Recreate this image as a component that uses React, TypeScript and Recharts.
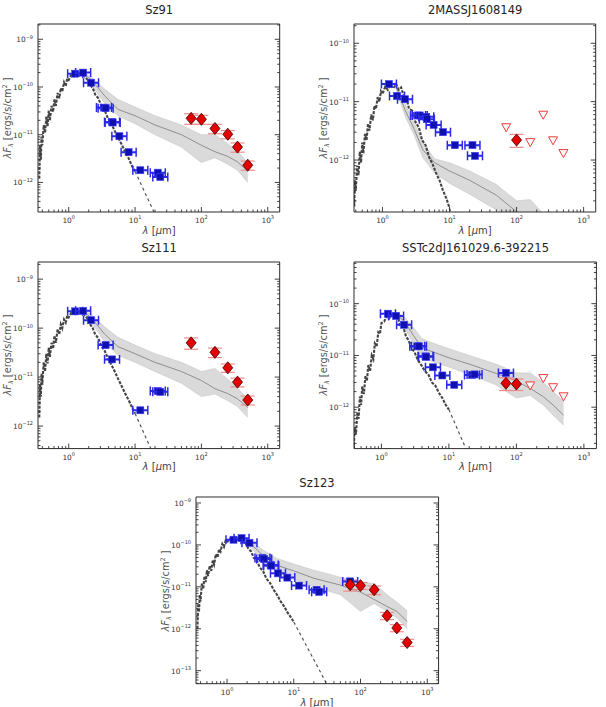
import React from "react";
import { ComposedChart, Line, Area, Scatter, ErrorBar, XAxis, YAxis } from "recharts";

const FONT = "DejaVu Sans, Verdana, sans-serif";
const FRAME = "#2b2b2b";

type XY = [number, number];
type XYE = [number, number, number];
type Band = [number, number, number, number]; // wavelength, median, low, high

// wavelength grid (micron) of the photosphere spectra
const specWave = [
  0.36, 0.37, 0.38, 0.39, 0.4, 0.42, 0.44, 0.46, 0.48, 0.5, 0.52, 0.55, 0.58, 0.61, 0.64,
  0.68, 0.72, 0.76, 0.8, 0.85, 0.9, 0.95, 1.0, 1.1, 1.2, 1.3, 1.45, 1.6, 1.75, 1.9, 2.1,
  2.3, 2.5, 2.8, 3.1, 3.5, 3.9, 4.4, 5.0, 5.6, 6.3, 7.1, 8.0, 9.0, 10,
];

const xMajor = [0, 1, 2, 3];

// ---- Sz91 ----
const sz91Spec = [
  1.2e-12, 6e-12, 3e-12, 9e-12, 6e-12, 1.6e-11, 1.1e-11, 2.4e-11, 1.5e-11, 3.2e-11, 2.0e-11,
  4.0e-11, 3.0e-11, 5.5e-11, 4.0e-11, 7.5e-11, 5.8e-11, 9.5e-11, 8.0e-11, 1.25e-10, 1.05e-10,
  1.5e-10, 1.4e-10, 1.85e-10, 1.7e-10, 2.0e-10, 1.75e-10, 2.05e-10, 1.6e-10, 1.45e-10, 1.1e-10,
  9.5e-11, 7.0e-11, 5.8e-11, 4.0e-11, 3.2e-11, 2.2e-11, 1.7e-11, 1.15e-11, 8.5e-12, 6.2e-12,
  4.3e-12, 3.2e-12, 2.2e-12, 1.7e-12,
];
const sz91Tail: XY[] = [[10, 1.7e-12], [40, 2.7e-14]];
const sz91Model: Band[] = [
  [1.6, 2.0e-10, 1.9e-10, 2.1e-10], [2.2, 1.4e-10, 1.1e-10, 1.6e-10], [3.5, 6.5e-11, 4.5e-11, 9e-11],
  [5.5, 3.4e-11, 2.5e-11, 5.5e-11], [10, 2.5e-11, 1.7e-11, 3.8e-11], [20, 1.6e-11, 1.0e-11, 2.5e-11],
  [50, 1.0e-11, 5.5e-12, 1.6e-11], [100, 6.0e-12, 2.6e-12, 1.0e-11], [160, 4.4e-12, 3.3e-12, 1.0e-11],
  [250, 3.5e-12, 2.4e-12, 6.5e-12], [350, 2.7e-12, 1.8e-12, 4.5e-12], [500, 1.7e-12, 1.0e-12, 2.6e-12],
];
const sz91Phot: XY[] = [
  [1.25, 1.9e-10], [1.65, 2.0e-10], [2.17, 1.23e-10], [3.4, 3.7e-11], [3.6, 3.6e-11], [4.5, 1.85e-11],
  [4.6, 1.8e-11], [5.8, 9.3e-12], [8.0, 4.3e-12], [12, 1.8e-12], [22, 1.6e-12], [24, 1.3e-12],
];
const sz91Far: XYE[] = [
  [70, 2.2e-11, 5.5e-12], [100, 2.1e-11, 4.5e-12], [160, 1.35e-11, 3e-12], [250, 1.02e-11, 2e-12],
  [350, 5.5e-12, 1.2e-12], [500, 2.3e-12, 5e-13],
];
const sz91Limits: XY[] = [];
const sz91YMajor = [-12, -11, -10, -9];

// ---- 2MASSJ1608149 ----
const j1608Spec = [
  1.0e-13, 2.5e-13, 1.6e-13, 4.5e-13, 3.0e-13, 8.0e-13, 5.5e-13, 1.4e-12, 9.0e-13, 2.0e-12, 1.3e-12,
  2.8e-12, 2.2e-12, 4.2e-12, 3.2e-12, 6.0e-12, 4.8e-12, 8.5e-12, 7.5e-12, 1.2e-11, 1.0e-11,
  1.5e-11, 1.35e-11, 1.8e-11, 1.6e-11, 1.95e-11, 1.7e-11, 2.0e-11, 1.6e-11, 1.75e-11, 1.2e-11,
  1.1e-11, 7.5e-12, 7.0e-12, 4.5e-12, 3.6e-12, 2.2e-12, 1.8e-12, 1.1e-12, 8.5e-13, 6.0e-13,
  4.5e-13, 3.0e-13, 2.2e-13, 1.5e-13,
];
const j1608Tail: XY[] = [[10, 1.5e-13], [40, 2.3e-15]];
const j1608Model: Band[] = [
  [1.6, 1.8e-11, 1.6e-11, 2.0e-11], [2.2, 7.0e-12, 5.5e-12, 9.0e-12], [3.0, 3.3e-12, 2.6e-12, 4.3e-12],
  [4.0, 1.5e-12, 1.1e-12, 2.0e-12], [6.0, 9.0e-13, 6.0e-13, 1.05e-12], [10, 6.5e-13, 4.0e-13, 9.0e-13],
  [20, 4.5e-13, 2.6e-13, 6.5e-13], [50, 2.5e-13, 1.4e-13, 3.8e-13], [100, 1.3e-13, 7e-14, 2.0e-13],
  [160, 1.0e-13, 5e-14, 2.1e-13], [250, 6e-14, 3e-14, 1.2e-13],
];
const j1608Phot: XY[] = [
  [1.25, 2.0e-11], [1.65, 1.25e-11], [2.17, 1.1e-11], [3.4, 5.8e-12], [3.6, 5.8e-12], [4.5, 5.5e-12],
  [4.6, 5.0e-12], [5.8, 4.0e-12], [8.0, 3.0e-12], [12, 1.8e-12], [22, 1.8e-12], [24, 1.18e-12],
];
const j1608Far: XYE[] = [[100, 2.2e-12, 5.5e-13]];
const j1608Limits: XY[] = [[70, 3.6e-12], [160, 2.0e-12], [250, 5.9e-12], [350, 2.15e-12], [500, 1.3e-12]];
const j1608YMajor = [-12, -11, -10];

// ---- Sz111 ----
const sz111Spec = [
  1.5e-12, 7e-12, 4e-12, 1.2e-11, 7e-12, 2.0e-11, 1.3e-11, 3.0e-11, 1.9e-11, 4.0e-11, 2.6e-11,
  5.0e-11, 3.8e-11, 7.0e-11, 5.0e-11, 9.5e-11, 7.5e-11, 1.2e-10, 1.0e-10, 1.5e-10, 1.3e-10,
  1.8e-10, 1.65e-10, 2.1e-10, 1.95e-10, 2.3e-10, 2.0e-10, 2.3e-10, 1.8e-10, 1.6e-10, 1.2e-10,
  1.0e-10, 7.5e-11, 6.2e-11, 4.3e-11, 3.4e-11, 2.4e-11, 1.8e-11, 1.25e-11, 9.0e-12, 6.5e-12,
  4.6e-12, 3.4e-12, 2.4e-12, 1.8e-12,
];
const sz111Tail: XY[] = [[10, 1.8e-12], [40, 2.8e-14]];
const sz111Model: Band[] = [
  [1.6, 2.3e-10, 2.2e-10, 2.4e-10], [2.2, 1.6e-10, 1.3e-10, 1.9e-10], [3.5, 7.5e-11, 5.2e-11, 1.05e-10],
  [5.5, 4.2e-11, 2.8e-11, 6.5e-11], [10, 3.0e-11, 2.0e-11, 4.5e-11], [20, 2.0e-11, 1.3e-11, 3.0e-11],
  [50, 1.3e-11, 7.5e-12, 2.0e-11], [100, 8.5e-12, 4.0e-12, 1.3e-11], [160, 5.8e-12, 4.5e-12, 1.5e-11],
  [250, 4.6e-12, 3.3e-12, 9e-12], [350, 3.6e-12, 2.5e-12, 6e-12], [500, 2.4e-12, 1.5e-12, 3.6e-12],
];
const sz111Phot: XY[] = [
  [1.25, 2.2e-10], [1.65, 2.25e-10], [2.17, 1.45e-10], [3.6, 4.5e-11], [4.5, 2.3e-11], [12, 2.1e-12],
  [22, 5.2e-12], [24, 5.0e-12],
];
const sz111Far: XYE[] = [
  [70, 5.0e-11, 1.3e-11], [160, 3.2e-11, 7e-12], [250, 1.55e-11, 3e-12], [350, 7.9e-12, 1.6e-12],
  [500, 3.4e-12, 7e-13],
];
const sz111Limits: XY[] = [];
const sz111YMajor = [-12, -11, -10, -9];

// ---- SSTc2dJ161029.6-392215 ----
const sst161Spec = [
  1.5e-13, 1.0e-13, 2.5e-13, 1.6e-13, 4.0e-13, 3.0e-13, 8.0e-13, 6.0e-13, 1.6e-12, 1.1e-12, 2.5e-12,
  1.8e-12, 4.0e-12, 3.2e-12, 6.5e-12, 5.0e-12, 1.0e-11, 8.5e-12, 1.7e-11, 1.5e-11, 2.8e-11,
  2.6e-11, 4.2e-11, 4.5e-11, 5.8e-11, 5.2e-11, 6.2e-11, 5.0e-11, 5.5e-11, 3.8e-11, 3.6e-11,
  2.4e-11, 2.0e-11, 1.4e-11, 1.15e-11, 8.0e-12, 6.5e-12, 5.0e-12, 4.2e-12, 3.0e-12, 2.6e-12,
  1.9e-12, 1.5e-12, 1.1e-12, 9.0e-13,
];
const sst161Tail: XY[] = [[10, 9.0e-13], [40, 1.4e-14]];
const sst161Model: Band[] = [
  [1.6, 6.5e-11, 6.0e-11, 7.2e-11], [2.2, 4.5e-11, 3.5e-11, 5.5e-11], [3.0, 2.4e-11, 1.6e-11, 3.4e-11],
  [4.0, 1.4e-11, 9.0e-12, 2.1e-11], [6.0, 1.15e-11, 7.5e-12, 1.7e-11], [10, 9.0e-12, 6.0e-12, 1.35e-11],
  [20, 6.8e-12, 4.3e-12, 1.0e-11], [50, 4.5e-12, 2.7e-12, 6.8e-12], [100, 3.2e-12, 1.5e-12, 4.6e-12],
  [160, 2.3e-12, 1.7e-12, 4.6e-12], [250, 1.6e-12, 1.1e-12, 3.0e-12], [350, 1.1e-12, 7.0e-13, 2.0e-12],
  [500, 7.0e-13, 4.5e-13, 1.3e-12],
];
const sst161Phot: XY[] = [
  [1.25, 6.4e-11], [1.65, 5.8e-11], [2.17, 3.9e-11], [3.4, 1.5e-11], [3.6, 1.5e-11], [4.5, 9.6e-12],
  [4.6, 9.4e-12], [5.8, 5.9e-12], [8.0, 4.1e-12], [12, 2.7e-12], [22, 4.2e-12], [24, 4.3e-12],
  [70, 4.6e-12],
];
const sst161Far: XYE[] = [[70, 2.9e-12, 8e-13], [100, 2.8e-12, 7e-13]];
const sst161Limits: XY[] = [[160, 2.6e-12], [250, 3.6e-12], [350, 2.4e-12], [500, 1.6e-12]];
const sst161YMajor = [-12, -11, -10];

// ---- Sz123 ----
const sz123Spec = [
  1.0e-12, 4.0e-12, 2.5e-12, 6.5e-12, 4.5e-12, 1.2e-11, 9.0e-12, 1.8e-11, 1.3e-11, 2.5e-11, 1.8e-11,
  3.2e-11, 2.4e-11, 4.2e-11, 3.4e-11, 6.0e-11, 5.0e-11, 8.0e-11, 7.0e-11, 1.05e-10, 9.0e-11,
  1.25e-10, 1.15e-10, 1.4e-10, 1.25e-10, 1.5e-10, 1.3e-10, 1.45e-10, 1.15e-10, 1.1e-10, 8.0e-11,
  7.0e-11, 5.0e-11, 4.2e-11, 2.9e-11, 2.3e-11, 1.55e-11, 1.25e-11, 8.5e-12, 6.5e-12, 4.6e-12,
  3.5e-12, 2.5e-12, 1.9e-12, 1.45e-12,
];
const sz123Tail: XY[] = [[10, 1.45e-12], [40, 2.3e-14]];
const sz123Model: Band[] = [
  [1.6, 1.45e-10, 1.35e-10, 1.55e-10], [2.2, 1.1e-10, 9.0e-11, 1.3e-10], [3.5, 5.5e-11, 4.0e-11, 7.5e-11],
  [5.5, 3.3e-11, 2.2e-11, 4.8e-11], [10, 2.4e-11, 1.5e-11, 3.5e-11], [20, 1.6e-11, 1.0e-11, 2.5e-11],
  [50, 1.1e-11, 6.5e-12, 1.7e-11], [100, 7.5e-12, 2.6e-12, 1.3e-11], [160, 5.0e-12, 4.0e-12, 1.2e-11],
  [250, 3.4e-12, 2.6e-12, 6.5e-12], [350, 2.6e-12, 1.8e-12, 4.3e-12], [500, 1.5e-12, 1.0e-12, 2.7e-12],
];
const sz123Phot: XY[] = [
  [1.25, 1.33e-10], [1.65, 1.45e-10], [2.17, 1.12e-10], [3.4, 4.9e-11], [3.6, 4.6e-11], [4.5, 3.3e-11],
  [4.6, 3.2e-11], [5.8, 2.1e-11], [8.0, 1.66e-11], [12, 1.07e-11], [22, 8.5e-12], [24, 7.6e-12],
  [70, 1.35e-11],
];
const sz123Far: XYE[] = [
  [70, 1.12e-11, 3.3e-12], [100, 1.07e-11, 2e-12], [160, 8.5e-12, 2e-12], [250, 2.05e-12, 4e-13],
  [350, 1.05e-12, 2e-13], [500, 4.7e-13, 9e-14],
];
const sz123Limits: XY[] = [];
const sz123YMajor = [-13, -12, -11, -10, -9];

interface PanelDef {
  title: string;
  box: [number, number, number, number]; // plot area: left, top, right, bottom
  xExp: [number, number];
  yExp: [number, number];
  yMajor: number[];
  spec: number[];
  tail: XY[];
  model: Band[];
  phot: XY[];
  far: XYE[];
  limits: XY[];
}

const panels: PanelDef[] = [
  { title: "Sz91", box: [38.3, 24, 280, 212], xExp: [-0.463, 3.18], yExp: [-12.62, -8.68], yMajor: sz91YMajor,
    spec: sz91Spec, tail: sz91Tail, model: sz91Model, phot: sz91Phot, far: sz91Far, limits: sz91Limits },
  { title: "2MASSJ1608149", box: [354.3, 24, 596, 212], xExp: [-0.424, 3.18], yExp: [-12.89, -9.67], yMajor: j1608YMajor,
    spec: j1608Spec, tail: j1608Tail, model: j1608Model, phot: j1608Phot, far: j1608Far, limits: j1608Limits },
  { title: "Sz111", box: [38.3, 261.7, 280, 448.3], xExp: [-0.463, 3.18], yExp: [-12.46, -8.65], yMajor: sz111YMajor,
    spec: sz111Spec, tail: sz111Tail, model: sz111Model, phot: sz111Phot, far: sz111Far, limits: sz111Limits },
  { title: "SSTc2dJ161029.6-392215", box: [354.3, 261.7, 596.7, 448.3], xExp: [-0.406, 3.185], yExp: [-12.8, -9.195],
    yMajor: sst161YMajor, spec: sst161Spec, tail: sst161Tail, model: sst161Model, phot: sst161Phot, far: sst161Far,
    limits: sst161Limits },
  { title: "Sz123", box: [195.7, 497.3, 438.3, 684], xExp: [-0.465, 3.17], yExp: [-13.31, -8.857], yMajor: sz123YMajor,
    spec: sz123Spec, tail: sz123Tail, model: sz123Model, phot: sz123Phot, far: sz123Far, limits: sz123Limits },
];

// all 1..9 x 10^n positions inside a log range given by exponents
const logTicks = (lo: number, hi: number) => {
  const out: number[] = [];
  for (let e = Math.floor(lo); e <= Math.ceil(hi); e++) {
    for (let m = 1; m <= 9; m++) {
      const v = m * Math.pow(10, e);
      const l = Math.log10(v);
      if (l >= lo && l <= hi) out.push(v);
    }
  }
  return out;
};

const expOf = (v: number) => Math.round(Math.log10(v));
const isMajor = (v: number) => Math.abs(Math.log10(v) - expOf(v)) < 1e-6;

const PowLabel = ({ x, y, anchor, e }: { x: number; y: number; anchor: string; e: number }) => (
  <text x={x} y={y} textAnchor={anchor} fontFamily={FONT} fontSize={7.4} fill="#333">
    10
    <tspan dy={-3.6} fontSize={5}>{e < 0 ? `\u2212${-e}` : `${e}`}</tspan>
  </text>
);

type Side = "bottom" | "top" | "left" | "right";

// inward tick marks on every side, 10^n labels on the bottom and left
const makeTick = (side: Side, labelled: number[]) => (p: any) => {
  const v = p.payload.value as number;
  const major = isMajor(v);
  const len = major ? 5 : 2.5;
  const { x, y } = p;
  let l: [number, number, number, number];
  if (side === "bottom") l = [x, y, x, y - len];
  else if (side === "top") l = [x, y, x, y + len];
  else if (side === "left") l = [x, y, x + len, y];
  else l = [x, y, x - len, y];
  const e = expOf(v);
  return (
    <g>
      <line x1={l[0]} y1={l[1]} x2={l[2]} y2={l[3]} stroke={FRAME} strokeWidth={0.9} />
      {major && labelled.includes(e) && side === "bottom" && <PowLabel x={x} y={y + 11} anchor="middle" e={e} />}
      {major && labelled.includes(e) && side === "left" && <PowLabel x={x - 5} y={y + 3} anchor="end" e={e} />}
    </g>
  );
};

const PhotMark = (p: any) => {
  const { cx, cy } = p;
  const c = "#2a2ae6";
  return (
    <g>
      <line x1={cx - 7.5} x2={cx + 7.5} y1={cy} y2={cy} stroke={c} strokeWidth={2} />
      <line x1={cx - 7.5} x2={cx - 7.5} y1={cy - 4.5} y2={cy + 4.5} stroke={c} strokeWidth={1.5} />
      <line x1={cx + 7.5} x2={cx + 7.5} y1={cy - 4.5} y2={cy + 4.5} stroke={c} strokeWidth={1.5} />
      <rect x={cx - 3.5} y={cy - 3.5} width={7} height={7} fill="#1010b0" stroke="#3838ff" strokeWidth={0.6} />
    </g>
  );
};

const Diamond = (p: any) => {
  const { cx, cy } = p;
  return (
    <polygon
      points={`${cx},${cy - 6} ${cx + 5},${cy} ${cx},${cy + 6} ${cx - 5},${cy}`}
      fill="#e40000"
      stroke="#3a0000"
      strokeWidth={0.8}
    />
  );
};

const DownTri = (p: any) => {
  const { cx, cy } = p;
  return (
    <polygon
      points={`${cx - 4.5},${cy - 3.8} ${cx + 4.5},${cy - 3.8} ${cx},${cy + 4.2}`}
      fill="#fff"
      stroke="#f03a3a"
      strokeWidth={1}
    />
  );
};

// chart margins; the left and bottom axes each take one more pixel
const ML = 40, MT = 30, MR = 20, MB = 30;

const Panel = ({ d }: { d: PanelDef }) => {
  const [l, t, r, b] = d.box;
  const xd: [number, number] = [Math.pow(10, d.xExp[0]), Math.pow(10, d.xExp[1])];
  const yd: [number, number] = [Math.pow(10, d.yExp[0]), Math.pow(10, d.yExp[1])];
  const xt = logTicks(d.xExp[0], d.xExp[1]);
  const yt = logTicks(d.yExp[0], d.yExp[1]);

  const spec = specWave.map((x, i) => ({ x, y: d.spec[i] }));
  const tail = d.tail.map(([x, y]) => ({ x, y }));
  const band = d.model.map(([x, mid, lo, hi]) => ({ x, mid, lo, hi }));
  const phot = d.phot.map(([x, y]) => ({ x, y }));
  const far = d.far.map(([x, y, e]) => ({ x, y, e }));
  const lim = d.limits.map(([x, y]) => ({ x, y }));

  const axisLine = { stroke: FRAME, strokeWidth: 1 };
  const common = { type: "number" as const, scale: "log" as const, allowDataOverflow: true, interval: 0 as const,
    tickSize: 0, tickMargin: 0, tickLine: false, axisLine };

  return (
    <>
      <div style={{ position: "absolute", left: l - ML, top: t - MT }}>
        <ComposedChart width={r - l + ML + MR} height={b - t + MT + MB}
          margin={{ top: MT, right: MR, bottom: MB - 1, left: ML - 1 }}>
          <XAxis dataKey="x" {...common} domain={xd} ticks={xt} height={1} tick={makeTick("bottom", xMajor)} />
          <XAxis xAxisId="top" orientation="top" mirror {...common} domain={xd} ticks={xt} height={1}
            tick={makeTick("top", [])} />
          <YAxis {...common} domain={yd} ticks={yt} width={1} tick={makeTick("left", d.yMajor)} />
          <YAxis yAxisId="right" orientation="right" mirror {...common} domain={yd} ticks={yt} width={1}
            tick={makeTick("right", [])} />

          <Area data={band} dataKey={(p: any) => [p.lo, p.hi]} type="linear" stroke="#c6c6c6" strokeWidth={0.6}
            fill="#dadada" fillOpacity={1} dot={false} activeDot={false} isAnimationActive={false} />
          <Line data={band} dataKey="mid" type="linear" stroke="#8e8e8e" strokeWidth={1} dot={false}
            activeDot={false} isAnimationActive={false} />
          <Line data={spec} dataKey="y" type="linear" stroke="#444" strokeWidth={2.1} strokeDasharray="3 1.3"
            dot={false} activeDot={false} isAnimationActive={false} />
          <Line data={tail} dataKey="y" type="linear" stroke="#555" strokeWidth={1.2} strokeDasharray="3 3"
            dot={false} activeDot={false} isAnimationActive={false} />
          <Scatter data={phot} dataKey="y" shape={PhotMark} isAnimationActive={false} />
          <Scatter data={far} dataKey="y" shape={Diamond} isAnimationActive={false}>
            <ErrorBar dataKey="e" direction="y" width={7} stroke="#f08a8a" strokeWidth={1.2} />
          </Scatter>
          <Scatter data={lim} dataKey="y" shape={DownTri} isAnimationActive={false} />
        </ComposedChart>
      </div>
      <div style={{ position: "absolute", left: (l + r) / 2, top: t - 14, transform: "translate(-50%,-50%)",
        whiteSpace: "nowrap", fontFamily: FONT, fontSize: 11.5, color: "#222" }}>
        {d.title}
      </div>
      <div style={{ position: "absolute", left: (l + r) / 2, top: b + 19, transform: "translate(-50%,-50%)",
        whiteSpace: "nowrap", fontFamily: FONT, fontSize: 10, color: "#444", lineHeight: 1 }}>
        <i>λ</i> [<i>μ</i>m]
      </div>
      <div style={{ position: "absolute", left: l - 30, top: (t + b) / 2, transform: "translate(-50%,-50%) rotate(-90deg)",
        whiteSpace: "nowrap", fontFamily: FONT, fontSize: 9.8, color: "#555", lineHeight: 1 }}>
        <i>λF</i><span style={{ fontSize: 6.5, verticalAlign: -2 }}><i>λ</i></span> [ergs/s/cm
        <span style={{ fontSize: 6.5, verticalAlign: 4 }}>2</span> ]
      </div>
    </>
  );
};

export default function App() {
  return (
    <div style={{ position: "absolute", left: 0, top: 0, width: 606, height: 707, background: "#fff" }}>
      {panels.map((p) => (
        <Panel key={p.title} d={p} />
      ))}
    </div>
  );
}
